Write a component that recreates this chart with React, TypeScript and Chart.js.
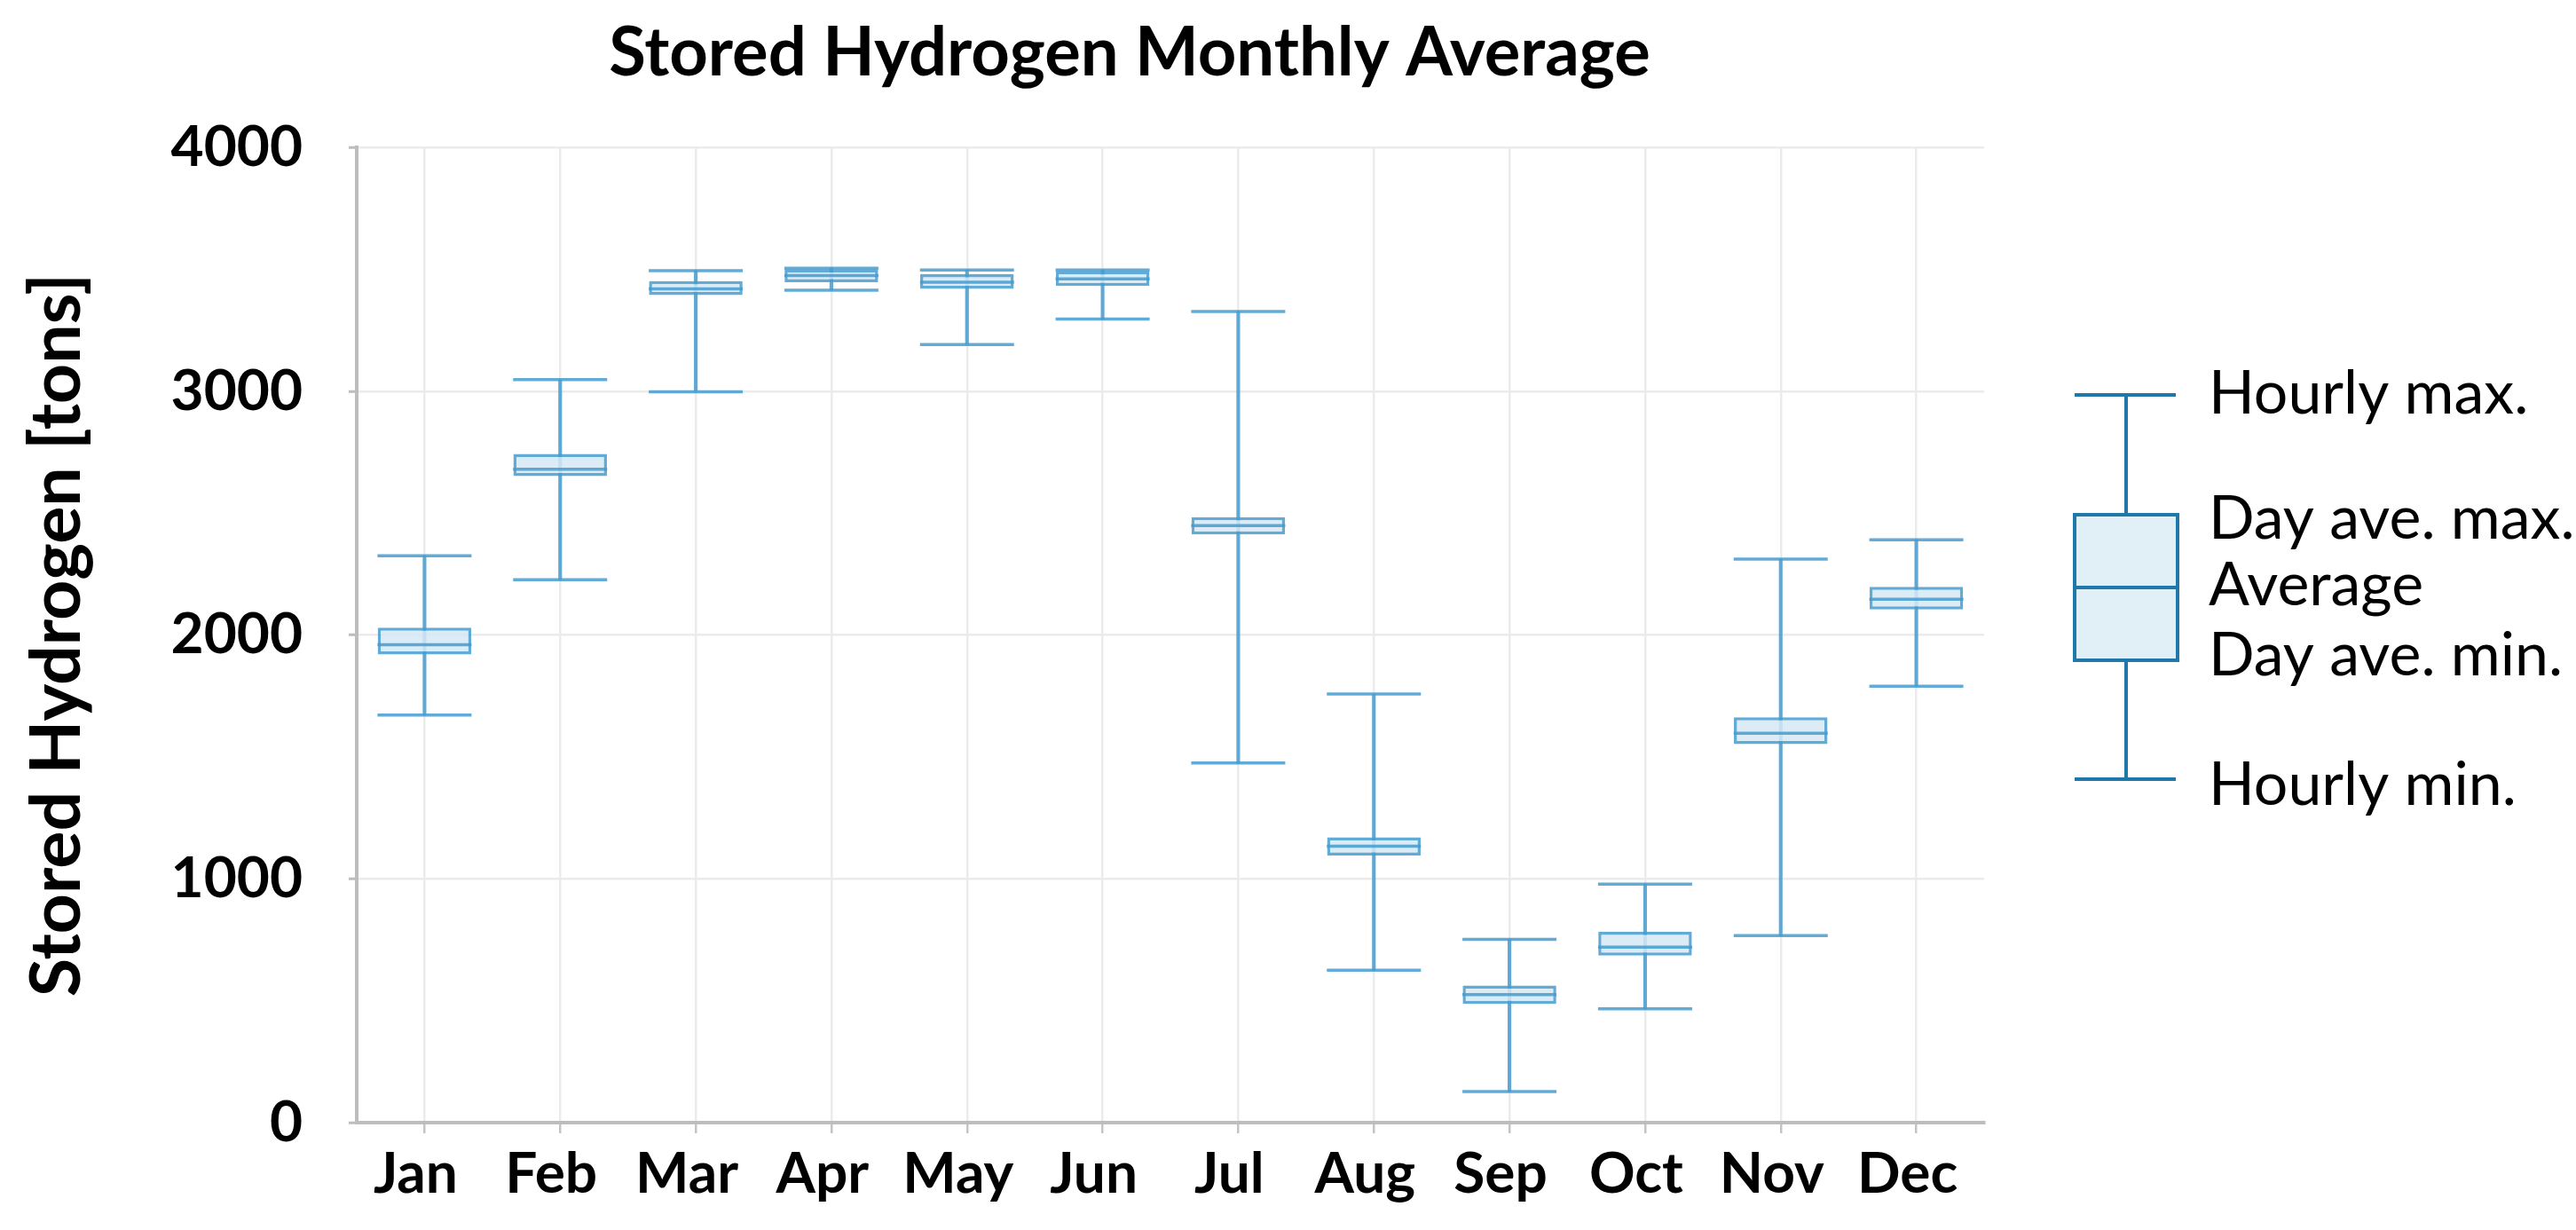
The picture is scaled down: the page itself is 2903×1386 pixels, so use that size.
import React, { useEffect, useRef } from "react";
import { Chart, registerables } from "chart.js";

Chart.register(...registerables);

// ---- data ----
const months = ["Jan", "Feb", "Mar", "Apr", "May", "Jun", "Jul", "Aug", "Sep", "Oct", "Nov", "Dec"];
const hourlyMax = [2325, 3048, 3495, 3505, 3497, 3497, 3327, 1758, 752, 978, 2312, 2391];
const dayAveMax = [2030, 2743, 3452, 3500, 3480, 3492, 2484, 1170, 562, 783, 1663, 2198];
const average = [1960, 2680, 3420, 3475, 3447, 3461, 2449, 1134, 525, 720, 1597, 2147];
const dayAveMin = [1920, 2652, 3395, 3447, 3420, 3432, 2413, 1096, 487, 685, 1553, 2105];
const hourlyMin = [1672, 2227, 2998, 3415, 3192, 3296, 1475, 625, 127, 467, 767, 1790];
const yTickValues = [0, 1000, 2000, 3000, 4000];
const legendLabels = ["Hourly max.", "Day ave. max.", "Average", "Day ave. min.", "Hourly min."];
const chartTitle = "Stored Hydrogen Monthly Average";
const yAxisTitle = "Stored Hydrogen [tons]";

const FONT = "Lato, 'Open Sans', 'DejaVu Sans', sans-serif";
const STROKE = "rgba(70,156,207,0.85)";
const BOX_FILL = "rgba(214,233,246,0.85)";
const LEGEND_COLOR = "#1f78a9";
const LEGEND_FILL = "#e1eff7";

const legendPlugin = {
  id: "boxLegend",
  afterDraw(chart: any) {
    const ctx = chart.ctx;
    ctx.save();
    const cx = 2396;
    const left = 2338;
    const right = 2454;
    const yMax = 445;
    const yQ3 = 580;
    const yAvg = 662;
    const yQ1 = 744;
    const yMin = 878;
    ctx.strokeStyle = LEGEND_COLOR;
    ctx.lineWidth = 4;
    // box
    ctx.fillStyle = LEGEND_FILL;
    ctx.fillRect(left, yQ3, right - left, yQ1 - yQ3);
    ctx.strokeRect(left, yQ3, right - left, yQ1 - yQ3);
    ctx.beginPath();
    ctx.moveTo(left, yAvg);
    ctx.lineTo(right, yAvg);
    // whiskers
    ctx.moveTo(cx, yMax);
    ctx.lineTo(cx, yQ3);
    ctx.moveTo(cx, yQ1);
    ctx.lineTo(cx, yMin);
    ctx.moveTo(left, yMax);
    ctx.lineTo(right - 2, yMax);
    ctx.moveTo(left, yMin);
    ctx.lineTo(right - 2, yMin);
    ctx.stroke();
    // labels
    ctx.fillStyle = "#000";
    ctx.font = `68px ${FONT}`;
    ctx.textAlign = "left";
    ctx.textBaseline = "alphabetic";
    const baselines = [466, 607, 682, 761, 907];
    legendLabels.forEach((t, i) => ctx.fillText(t, 2489, baselines[i]));
    ctx.restore();
  },
};

export default function App() {
  const canvasRef = useRef<HTMLCanvasElement | null>(null);

  useEffect(() => {
    const canvas = canvasRef.current;
    if (!canvas) return;
    const chart = new Chart(canvas, {
      type: "bar",
      data: {
        labels: months,
        datasets: [
          {
            type: "bar",
            label: "whisker",
            data: months.map((_, i) => [hourlyMin[i], hourlyMax[i]]),
            backgroundColor: STROKE,
            borderWidth: 0,
            barThickness: 3.5,
            grouped: false,
            order: 3,
          } as any,
          {
            type: "bar",
            label: "box",
            data: months.map((_, i) => [dayAveMin[i], dayAveMax[i]]),
            backgroundColor: BOX_FILL,
            borderColor: STROKE,
            borderWidth: 3.5,
            borderSkipped: false,
            grouped: false,
            categoryPercentage: 1,
            barPercentage: 0.69,
            order: 2,
          } as any,
          {
            type: "line",
            label: "average",
            data: average,
            showLine: false,
            pointStyle: "line",
            pointRadius: 53,
            pointBorderWidth: 3.5,
            pointBorderColor: STROKE,
            pointBackgroundColor: STROKE,
            order: 1,
          } as any,
          {
            type: "line",
            label: "max",
            data: hourlyMax,
            showLine: false,
            pointStyle: "line",
            pointRadius: 53,
            pointBorderWidth: 3.5,
            pointBorderColor: STROKE,
            order: 1,
          } as any,
          {
            type: "line",
            label: "min",
            data: hourlyMin,
            showLine: false,
            pointStyle: "line",
            pointRadius: 53,
            pointBorderWidth: 3.5,
            pointBorderColor: STROKE,
            order: 1,
          } as any,
        ],
      },
      options: {
        animation: false,
        responsive: false,
        devicePixelRatio: 1,
        events: [],
        layout: { padding: { left: 10, right: 367, top: 0, bottom: 0 } },
        plugins: {
          legend: { display: false },
          tooltip: { enabled: false },
          title: {
            display: true,
            text: chartTitle,
            color: "#000",
            font: { family: FONT, size: 76, weight: "bold" },
            padding: { top: 15, bottom: 60 },
          },
        },
        scales: {
          x: {
            type: "category",
            offset: true,
            grid: {
              offset: false,
              color: "#ebebeb",
              lineWidth: 2.5,
              tickColor: "#c4c4c4",
              tickLength: 12,
              tickWidth: 2.5,
            },
            border: { color: "#bdbdbd", width: 4 },
            ticks: {
              color: "#000",
              font: { family: FONT, size: 64, weight: "bold" },
              padding: 8,
              labelOffset: -10,
              maxRotation: 0,
              autoSkip: false,
            },
            afterFit(scale: any) {
              scale.height = 121;
            },
          },
          y: {
            min: 0,
            max: 4000,
            afterBuildTicks(scale: any) {
              scale.ticks = yTickValues.map((v) => ({ value: v }));
            },
            grid: {
              color: "#ebebeb",
              lineWidth: 2.5,
              tickColor: "#bdbdbd",
              tickLength: 9,
              tickWidth: 3,
            },
            border: { color: "#bdbdbd", width: 4 },
            ticks: {
              color: "#000",
              font: { family: FONT, size: 64, weight: "bold" },
              padding: 52,
              callback: (v: any) => String(v),
            },
            title: {
              display: true,
              text: yAxisTitle,
              color: "#000",
              font: { family: FONT, size: 79, weight: "bold" },
              padding: { top: 7, bottom: 0 },
            },
            afterFit(scale: any) {
              scale.width = 392;
            },
          },
          yr: {
            position: "right",
            display: true,
            grid: { display: false },
            border: { display: false },
            ticks: { display: false },
            afterFit(scale: any) {
              scale.width = 300;
            },
          },
        },
      } as any,
      plugins: [legendPlugin],
    });
    return () => chart.destroy();
  }, []);

  return (
    <div style={{ position: "absolute", left: 0, top: 0, width: 2903, height: 1386, background: "#fff" }}>
      <canvas ref={canvasRef} width={2903} height={1386} style={{ width: 2903, height: 1386, display: "block" }} />
    </div>
  );
}
